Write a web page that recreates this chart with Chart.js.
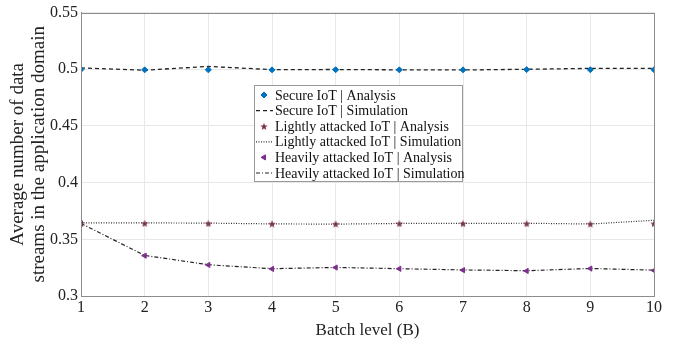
<!DOCTYPE html>
<html>
<head>
<meta charset="utf-8">
<script src="https://cdn.jsdelivr.net/npm/chart.js@4.4.1/dist/chart.umd.min.js"></script>
<style>
  html, body { margin: 0; padding: 0; background: #fff; }
  #wrap { width: 675px; height: 341px; position: relative; }
</style>
</head>
<body>
<div id="wrap"><canvas id="batchChart" width="675" height="341"></canvas></div>
<script>
var batchLevels = [1, 2, 3, 4, 5, 6, 7, 8, 9, 10];
var secureAnalysis = [0.4998, 0.4995, 0.4995, 0.4995, 0.4996, 0.4995, 0.4995, 0.4997, 0.4996, 0.4996];
var secureSim = [0.5012, 0.4992, 0.5025, 0.4997, 0.4998, 0.4995, 0.4994, 0.5, 0.5008, 0.5008];
var lightAnalysis = [0.3642, 0.3642, 0.3641, 0.3638, 0.3637, 0.364, 0.364, 0.364, 0.3637, 0.364];
var lightSim = [0.3645, 0.3645, 0.3643, 0.3636, 0.3634, 0.364, 0.364, 0.3642, 0.3635, 0.3668];
var heavyAnalysis = [0.364, 0.3356, 0.3274, 0.3239, 0.3251, 0.324, 0.3228, 0.3221, 0.3242, 0.3225];
var heavySim = [0.364, 0.3358, 0.3276, 0.3241, 0.3252, 0.3241, 0.323, 0.3223, 0.3243, 0.3228];
var yTicks = [0.3, 0.35, 0.4, 0.45, 0.5, 0.55];

function pts(arr) {
    return arr.map(function(v, i) { return { x: batchLevels[i], y: v }; });
}

var serif = '"Liberation Serif", "Times New Roman", serif';

// filled five point star used as marker
function starImage(color, size) {
    var cv = document.createElement('canvas');
    cv.width = size; cv.height = size;
    var g = cv.getContext('2d');
    var cx = size / 2, cy = size / 2 + 0.5, ro = size / 2, ri = ro * 0.42;
    g.beginPath();
    for (var k = 0; k < 10; k++) {
        var r = k % 2 ? ri : ro;
        var ang = -Math.PI / 2 + k * Math.PI / 5;
        g.lineTo(cx + r * Math.cos(ang), cy + r * Math.sin(ang));
    }
    g.closePath();
    g.fillStyle = color;
    g.fill();
    return cv;
}
var starMark = starImage('#7a3344', 8);

// box around the plot + legend drawn inside the plot area
var boxAndLegend = {
    id: 'boxAndLegend',
    afterDraw: function(chart) {
        var c = chart.ctx, a = chart.chartArea;
        c.save();
        c.strokeStyle = '#8c8c8c';
        c.lineWidth = 1;
        c.strokeRect(Math.round(a.left) + 0.5, Math.round(a.top) + 0.5,
                     Math.round(a.right - a.left), Math.round(a.bottom - a.top));

        var lx = 254, ly = 85, lw = 208, lh = 96, rowH = 15.6;
        c.fillStyle = '#fff';
        c.fillRect(lx, ly, lw, lh);
        c.strokeStyle = '#9a9a9a';
        c.strokeRect(lx + 0.5, ly + 0.5, lw, lh);
        c.font = '14px ' + serif;
        c.textBaseline = 'middle';
        chart.data.datasets.forEach(function(ds, i) {
            var y = ly + 10 + i * rowH;
            if (ds.showLine === false) {
                c.fillStyle = ds.pointBackgroundColor;
                c.strokeStyle = ds.pointBorderColor;
                c.lineWidth = 1;
                Chart.helpers.drawPoint(c, {
                    pointStyle: ds.pointStyle, radius: ds.pointRadius,
                    rotation: ds.pointRotation || 0, borderWidth: 1
                }, 264, y);
            } else {
                c.strokeStyle = ds.borderColor;
                c.lineWidth = ds.borderWidth;
                c.setLineDash(ds.borderDash || []);
                c.beginPath();
                c.moveTo(256, y);
                c.lineTo(273, y);
                c.stroke();
                c.setLineDash([]);
            }
            c.fillStyle = '#111';
            c.fillText(ds.label, 275, y + 1);
        });
        c.restore();
    }
};

document.addEventListener("DOMContentLoaded", function() {
    var ctx = document.getElementById('batchChart').getContext('2d');
    new Chart(ctx, {
        type: 'line',
        data: {
            datasets: [{
                label: 'Secure IoT | Analysis',
                data: pts(secureAnalysis),
                showLine: false,
                pointStyle: 'rectRot',
                pointRadius: 3,
                pointBackgroundColor: '#0072BD',
                pointBorderColor: '#0072BD',
                order: 0
            }, {
                label: 'Secure IoT | Simulation',
                data: pts(secureSim),
                borderColor: '#222',
                borderWidth: 1.3,
                borderDash: [4, 3],
                pointRadius: 0,
                order: 1
            }, {
                label: 'Lightly attacked IoT | Analysis',
                data: pts(lightAnalysis),
                showLine: false,
                pointStyle: starMark,
                pointRadius: 4,
                pointBackgroundColor: '#7a3344',
                pointBorderColor: '#7a3344',
                order: 0
            }, {
                label: 'Lightly attacked IoT | Simulation',
                data: pts(lightSim),
                borderColor: '#333',
                borderWidth: 1.2,
                borderDash: [1, 1.5],
                pointRadius: 0,
                order: 1
            }, {
                label: 'Heavily attacked IoT | Analysis',
                data: pts(heavyAnalysis),
                showLine: false,
                pointStyle: 'triangle',
                pointRotation: -90,
                pointRadius: 3,
                pointBackgroundColor: '#7E2F8E',
                pointBorderColor: '#7E2F8E',
                order: 0
            }, {
                label: 'Heavily attacked IoT | Simulation',
                data: pts(heavySim),
                borderColor: '#222',
                borderWidth: 1.2,
                borderDash: [4, 2, 1, 2],
                pointRadius: 0,
                order: 1
            }]
        },
        options: {
            responsive: false,
            animation: false,
            layout: { padding: { top: 10, right: 21, left: 0, bottom: 0 } },
            plugins: {
                legend: { display: false },
                tooltip: { enabled: false }
            },
            scales: {
                x: {
                    type: 'linear',
                    min: 1, max: 10,
                    ticks: {
                        stepSize: 1,
                        color: '#222',
                        font: { family: serif, size: 16 },
                        padding: 2
                    },
                    grid: { color: '#e8e8e8', drawTicks: false },
                    border: { color: '#8c8c8c' },
                    title: {
                        display: true,
                        text: 'Batch level (B)',
                        color: '#222',
                        font: { family: serif, size: 17 },
                        padding: { top: 0, bottom: 0 }
                    },
                    afterFit: function(s) { s.height = 45; }
                },
                y: {
                    min: 0.3, max: 0.55,
                    afterBuildTicks: function(s) {
                        s.ticks = yTicks.map(function(v) { return { value: v }; });
                    },
                    ticks: {
                        color: '#222',
                        font: { family: serif, size: 16 },
                        padding: 3,
                        callback: function(v) { return String(+v.toFixed(2)); }
                    },
                    grid: { color: '#e8e8e8', drawTicks: false },
                    border: { color: '#8c8c8c' },
                    title: {
                        display: true,
                        text: ['Average number of data', 'streams in the application domain'],
                        color: '#222',
                        font: { family: serif, size: 19, lineHeight: 1.1 },
                        padding: { top: 8, bottom: 0 }
                    },
                    afterFit: function(s) { s.width = 81; }
                }
            }
        },
        plugins: [boxAndLegend]
    });
});
</script>
</body>
</html>
